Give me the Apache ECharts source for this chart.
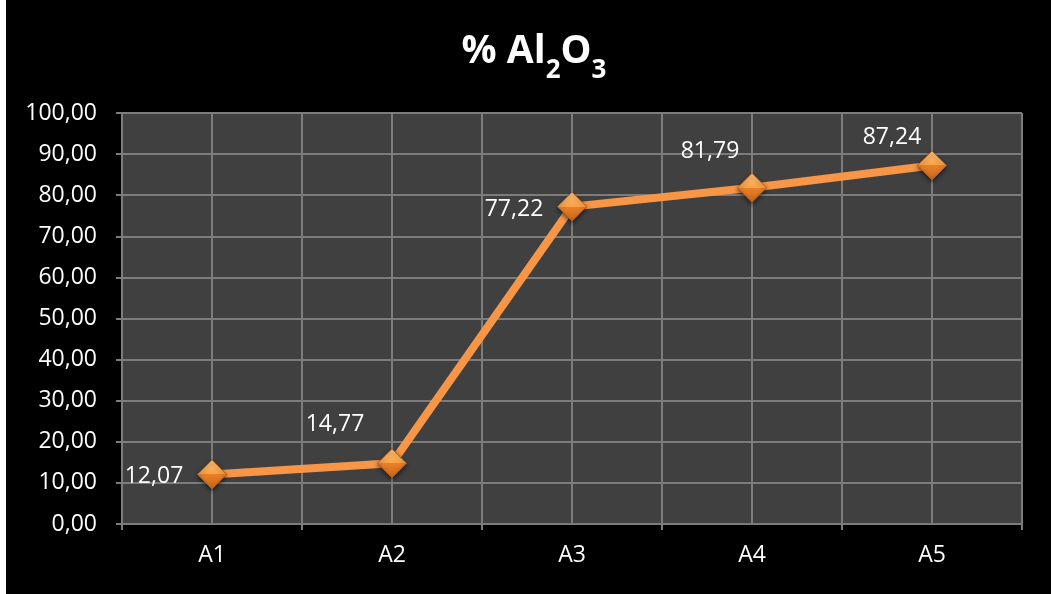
<!DOCTYPE html>
<html>
<head>
<meta charset="utf-8">
<script src="https://cdn.jsdelivr.net/npm/echarts@6/dist/echarts.min.js"></script>
<style>
  html, body { margin: 0; padding: 0; background: #ffffff; }
  #chart { width: 1051px; height: 594px; }
</style>
</head>
<body>
<div id="chart"></div>
<script>
// Alumina content per sample
const categories = ['A1', 'A2', 'A3', 'A4', 'A5'];
const aluminaPct = [12.07, 14.77, 77.22, 81.79, 87.24];
const yTicks = { min: 0, max: 100, step: 10 };

// where each value label sits relative to its marker
const labelOffsets = [[-58, 2], [-57, -39], [-58, 3], [-42, -36], [-40, -28]];

const fmt = v => v.toFixed(2).replace('.', ',');
const textFont = 'Open Sans';
const gridColor = '#7c7c7c';

const chart = echarts.init(document.getElementById('chart'));

chart.setOption({
  backgroundColor: '#ffffff',
  animation: false,
  graphic: [
    { type: 'rect', z: -10, silent: true,
      shape: { x: 6, y: 0, width: 1045, height: 594 },
      style: { fill: '#000000' } }
  ],
  title: {
    text: '{a|% Al}{s|2}{a|O}{s|3}',
    left: 529,
    textAlign: 'center',
    top: 27,
    textStyle: {
      rich: {
        a: { fontFamily: textFont, fontWeight: 'bold', fontSize: 39, color: '#ffffff',
             lineHeight: 46, verticalAlign: 'top' },
        s: { fontFamily: textFont, fontWeight: 'bold', fontSize: 26, color: '#ffffff',
             lineHeight: 30, verticalAlign: 'top', padding: [26, 0, 0, 0] }
      }
    }
  },
  grid: { left: 122, right: 29, top: 113, bottom: 70, show: true,
          backgroundColor: '#404040', borderWidth: 0 },
  xAxis: [
    {
      type: 'category',
      data: categories,
      boundaryGap: true,
      axisLine: { show: true, lineStyle: { color: gridColor, width: 2 } },
      axisTick: { show: true, length: 6, interval: 0, lineStyle: { color: gridColor, width: 2 } },
      splitLine: { show: false },
      axisLabel: { color: '#ffffff', fontFamily: textFont, fontSize: 23, margin: 20 },
      z: 3
    },
    {
      // half-category grid lines (boundaries and centres)
      type: 'value',
      min: 0, max: 10, interval: 1,
      position: 'bottom',
      axisLine: { show: false },
      axisTick: { show: false },
      axisLabel: { show: false },
      splitLine: { show: true, lineStyle: { color: gridColor, width: 2 } }
    }
  ],
  yAxis: {
    type: 'value',
    min: yTicks.min, max: yTicks.max, interval: yTicks.step,
    axisLine: { show: true, lineStyle: { color: gridColor, width: 2 } },
    axisTick: { show: true, length: 6, lineStyle: { color: gridColor, width: 2 } },
    splitLine: { show: true, lineStyle: { color: gridColor, width: 2 } },
    axisLabel: { color: '#ffffff', fontFamily: textFont, fontSize: 23, margin: 25,
                 formatter: v => fmt(v) }
  },
  series: [{
    type: 'line',
    xAxisIndex: 0,
    data: aluminaPct.map((v, i) => ({
      value: v,
      label: { offset: labelOffsets[i] }
    })),
    lineStyle: { color: '#F79646', width: 8 },
    symbol: 'diamond',
    symbolSize: 29,
    itemStyle: {
      color: new echarts.graphic.LinearGradient(0, 0, 0, 1, [
        { offset: 0, color: '#FFC47C' },
        { offset: 0.5, color: '#F9A044' },
        { offset: 0.5, color: '#E98128' },
        { offset: 1, color: '#C9661C' }
      ]),
      borderColor: '#B85E1C',
      borderWidth: 1,
      shadowColor: 'rgba(0,0,0,0.55)',
      shadowBlur: 4,
      shadowOffsetY: 2
    },
    label: {
      show: true,
      position: 'inside',
      color: '#ffffff',
      fontFamily: textFont,
      fontSize: 23,
      formatter: p => fmt(p.value)
    },
    z: 5
  }]
});
</script>
</body>
</html>
